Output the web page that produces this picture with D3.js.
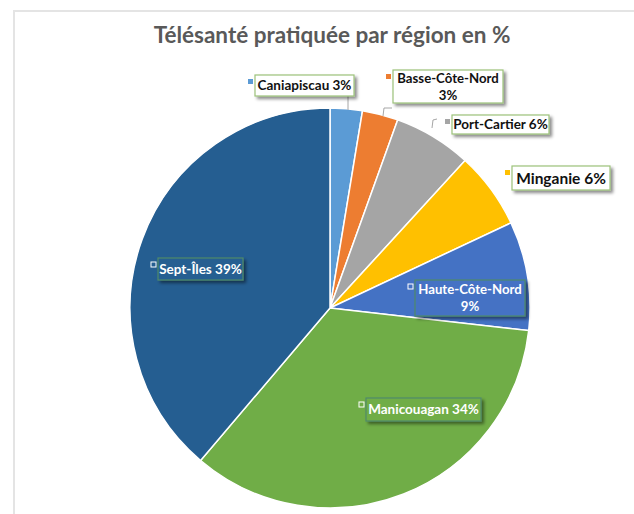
<!DOCTYPE html>
<html>
<head>
<meta charset="utf-8">
<script src="https://cdn.jsdelivr.net/npm/d3@7"></script>
<style>
  html, body { margin: 0; padding: 0; background: #fff; }
  svg { display: block; }
</style>
</head>
<body>
<div id="chart"></div>
<script>
(function () {
  "use strict";

  // ── Données ────────────────────────────────────────────
  const regions = ["Caniapiscau", "Basse-Côte-Nord", "Port-Cartier", "Minganie", "Haute-Côte-Nord", "Manicouagan", "Sept-Îles"];
  const values = [2.6, 2.9, 6.3, 6.2, 8.8, 34.4, 38.8];
  const labels = [["Caniapiscau 3%"], ["Basse-Côte-Nord", "3%"], ["Port-Cartier 6%"], ["Minganie 6%"], ["Haute-Côte-Nord", "9%"], ["Manicouagan 34%"], ["Sept-Îles 39%"]];
  const colors = ["#5b9bd5", "#ed7d31", "#a5a5a5", "#ffc000", "#4472c4", "#70ad47", "#255e91"];
  const title = "Télésanté pratiquée par région en %";

  // ── Mise en page ───────────────────────────────────────
  const width = 634;
  const height = 514;
  const cx = 330, cy = 308, R = 200;
  const FONT = "Lato, 'Open Sans', sans-serif";

  // boîtes d'étiquettes : x, y (coin haut-gauche), largeur, hauteur, dedans ?
  const boxes = [
    { x: 255, y: 75, w: 99, h: 21, inside: false, fs: 13.5 },
    { x: 393, y: 70, w: 110, h: 33, inside: false, fs: 13.2 },
    { x: 452, y: 115, w: 97, h: 19, inside: false, fs: 13.5 },
    { x: 512, y: 166, w: 98, h: 24, inside: false, fs: 15.5 },
    { x: 415, y: 280, w: 110, h: 36, inside: true, fs: 13.2 },
    { x: 366, y: 398, w: 115, h: 23, inside: true, fs: 13.5 },
    { x: 158, y: 258, w: 85, h: 22, inside: true, fs: 13.5 },
  ];
  // lignes de rappel (pour les petites parts)
  const leaders = [
    [[348, 96], [348, 110]],
    [[392, 108], [384, 108], [383, 116]],
    [[437, 119], [433, 120], [432, 128]],
  ];

  const svg = d3.select("#chart").append("svg").attr("width", width).attr("height", height);

  const defs = svg.append("defs");
  const f = defs.append("filter").attr("id", "shadow").attr("x", "-20%").attr("y", "-30%").attr("width", "150%").attr("height", "180%");
  f.append("feDropShadow").attr("dx", 2.5).attr("dy", 2.5).attr("stdDeviation", 1.6).attr("flood-color", "#000").attr("flood-opacity", 0.45);

  // Cadre
  svg.append("path")
    .attr("d", `M14,${height} L14,11 L${width},11`)
    .attr("fill", "none")
    .attr("stroke", "#e4e4e4")
    .attr("stroke-width", 2);

  // Titre
  svg.append("text")
    .attr("x", 332).attr("y", 43)
    .attr("text-anchor", "middle")
    .attr("font-family", FONT)
    .attr("font-weight", "bold")
    .attr("font-size", "22.5px")
    .attr("fill", "#595959")
    .text(title);

  // Camembert
  const pie = d3.pie().sort(null).value((d) => d)(values);
  const arc = d3.arc().innerRadius(0).outerRadius(R);

  const g = svg.append("g").attr("transform", `translate(${cx},${cy})`);
  g.selectAll("path.slice")
    .data(pie)
    .join("path")
    .attr("class", "slice")
    .attr("d", arc)
    .attr("fill", (d, i) => colors[i])
    .attr("stroke", "#fff")
    .attr("stroke-width", 1.5);

  // Lignes de rappel
  const line = d3.line();
  svg.selectAll("path.leader")
    .data(leaders)
    .join("path")
    .attr("class", "leader")
    .attr("d", line)
    .attr("fill", "none")
    .attr("stroke", "#a6a6a6")
    .attr("stroke-width", 1);

  // Étiquettes
  const lab = svg.selectAll("g.label").data(regions).join("g").attr("class", "label");

  lab.append("rect")
    .attr("x", (d, i) => boxes[i].x)
    .attr("y", (d, i) => boxes[i].y)
    .attr("width", (d, i) => boxes[i].w)
    .attr("height", (d, i) => boxes[i].h)
    .attr("fill", (d, i) => (boxes[i].inside ? colors[i] : "#fff"))
    .attr("stroke", (d, i) => (boxes[i].inside ? "#4f8a6a" : "#9cc27a"))
    .attr("stroke-width", 1.2)
    .attr("filter", "url(#shadow)");

  // carré de légende
  lab.append("rect")
    .attr("x", (d, i) => boxes[i].x - 7)
    .attr("y", (d, i) => boxes[i].y + 4)
    .attr("width", 5)
    .attr("height", 5)
    .attr("fill", (d, i) => colors[i])
    .attr("stroke", (d, i) => (boxes[i].inside ? "#fff" : "none"))
    .attr("stroke-width", 1);

  lab.each(function (d, i) {
    const b = boxes[i];
    const lines = labels[i];
    const t = d3.select(this).append("text")
      .attr("font-family", FONT)
      .attr("font-weight", "bold")
      .attr("font-size", b.fs + "px")
      .attr("fill", b.inside ? "#fff" : "#111")
      .attr("text-anchor", "middle");
    const lh = b.fs * 1.3;
    const top = b.y + b.h / 2 - ((lines.length - 1) * lh) / 2 + b.fs * 0.36;
    lines.forEach((s, k) => {
      t.append("tspan").attr("x", b.x + b.w / 2).attr("y", top + k * lh).text(s);
    });
  });
})();
</script>
</body>
</html>
